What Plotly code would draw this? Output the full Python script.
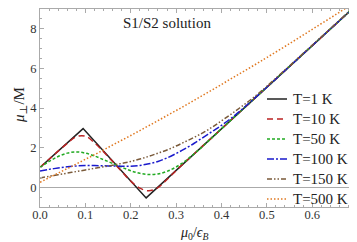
import plotly.graph_objects as go

# ---- data ----
x_t1 = [0.0, 0.095, 0.234, 0.72]
y_t1 = [1.0, 2.96, -0.54, 9.67]

x_grid = [0.00, 0.02, 0.04, 0.06, 0.08, 0.10, 0.12, 0.14, 0.16, 0.18, 0.20,
          0.22, 0.24, 0.26, 0.28, 0.30, 0.32, 0.34, 0.36, 0.38, 0.40, 0.42,
          0.44, 0.46, 0.48, 0.50, 0.55, 0.60, 0.65, 0.70, 0.72]

y_t10 = [1.00, 1.41, 1.82, 2.21, 2.55, 2.58, 2.24, 1.79, 1.30, 0.80, 0.31,
         -0.05, -0.18, -0.02, 0.39, 0.84, 1.27, 1.69, 2.11, 2.53, 2.95, 3.37,
         3.79, 4.21, 4.63, 5.05, 6.10, 7.15, 8.20, 9.25, 9.67]

y_t50 = [1.00, 1.30, 1.55, 1.72, 1.78, 1.72, 1.58, 1.39, 1.20, 1.01, 0.83,
         0.70, 0.64, 0.67, 0.80, 1.02, 1.32, 1.69, 2.09, 2.52, 2.95, 3.37,
         3.79, 4.21, 4.63, 5.05, 6.10, 7.15, 8.20, 9.25, 9.67]

y_t100 = [0.82, 0.90, 0.97, 1.03, 1.07, 1.09, 1.09, 1.08, 1.07, 1.06, 1.06,
          1.10, 1.18, 1.30, 1.48, 1.70, 1.95, 2.22, 2.52, 2.82, 3.12, 3.46,
          3.83, 4.23, 4.64, 5.05, 6.10, 7.15, 8.20, 9.25, 9.67]

y_t150 = [0.47, 0.55, 0.63, 0.71, 0.79, 0.87, 0.95, 1.03, 1.11, 1.20, 1.30,
          1.42, 1.56, 1.72, 1.88, 2.08, 2.30, 2.52, 2.76, 3.04, 3.35, 3.67,
          4.00, 4.34, 4.70, 5.10, 6.13, 7.17, 8.21, 9.26, 9.68]

y_t500 = [0.25, 0.48, 0.71, 0.94, 1.17, 1.41, 1.64, 1.88, 2.13, 2.37, 2.61,
          2.86, 3.11, 3.36, 3.62, 3.87, 4.13, 4.39, 4.66, 4.92, 5.19, 5.46,
          5.73, 6.00, 6.27, 6.55, 7.25, 7.97, 8.69, 9.43, 9.73]

labels = ["T=1 K", "T=10 K", "T=50 K", "T=100 K", "T=150 K", "T=500 K"]
x_ticks = [0.0, 0.1, 0.2, 0.3, 0.4, 0.5, 0.6, 0.7]
x_tick_text = ["0.0", "0.1", "0.2", "0.3", "0.4", "0.5", "0.6", "0.7"]
y_ticks = [0, 2, 4, 6, 8]

series = [
    (x_t1, y_t1, "#222222", "solid", "linear"),
    (x_grid, y_t10, "#bb2222", "6px,4px", "spline"),
    (x_grid, y_t50, "#22aa22", "3px,2px", "spline"),
    (x_grid, y_t100, "#1a1acc", "7px,2px,2px,2px", "spline"),
    (x_grid, y_t150, "#7a5a3a", "5px,2px,1.5px,2px,1.5px,2px", "spline"),
    (x_grid, y_t500, "#e07820", "1.5px,2px", "spline"),
]

SERIF = "Liberation Serif, Times New Roman, DejaVu Serif, serif"

W, H = 357, 242
L, R, T, B = 32, 2, 1, 43
pw, ph = W - L - R, H - T - B

def px(xp):
    return (xp - L) / pw

def py(yp):
    return (H - B - yp) / ph

fig = go.Figure()
shapes = []
annotations = []
for i, ((xs, ys, col, dash, shape), lab) in enumerate(zip(series, labels)):
    fig.add_trace(go.Scatter(x=xs, y=ys, mode="lines", name=lab, showlegend=False,
                             line=dict(color=col, width=1.5, dash=dash, shape=shape)))
    row_y = 91 + 20 * i
    shapes.append(dict(type="line", xref="paper", yref="paper",
                       x0=px(259), x1=px(279), y0=py(row_y), y1=py(row_y),
                       line=dict(color=col, width=1.5, dash=dash)))
    annotations.append(dict(text=lab, x=px(283), y=py(row_y), xref="paper", yref="paper",
                            xanchor="left", yanchor="middle", showarrow=False,
                            font=dict(size=15, family=SERIF, color="#222222")))

axis_common = dict(showgrid=False, showline=True, linecolor="#aaaaaa", linewidth=1,
                   mirror="allticks", ticks="inside", ticklen=4, tickcolor="#aaaaaa",
                   tickfont=dict(family=SERIF, size=12.5, color="#333333"))

fig.update_xaxes(range=[0, 0.712], tickvals=x_ticks, ticktext=x_tick_text,
                 zeroline=False, ticklabelstandoff=-4,
                 minor=dict(ticks="inside", ticklen=2, dtick=0.02, tickcolor="#aaaaaa"),
                 **axis_common)
fig.update_yaxes(range=[-1, 9], tickvals=y_ticks, zeroline=True,
                 zerolinecolor="#aaaaaa", zerolinewidth=1,
                 minor=dict(ticks="inside", ticklen=2, dtick=0.5, tickcolor="#aaaaaa"),
                 **axis_common)

annotations += [
    dict(text="S1/S2 solution", x=px(113), y=py(15), xref="paper", yref="paper",
         xanchor="left", yanchor="middle", showarrow=False,
         font=dict(size=15, family=SERIF, color="#222222")),
    dict(text="<i>μ</i><sub>⊥</sub>/M", x=px(12), y=py(97), xref="paper", yref="paper",
         xanchor="center", yanchor="middle", showarrow=False, textangle=-90,
         font=dict(size=15, family=SERIF, color="#222222")),
    dict(text="<i>μ</i><sub>0</sub>/<i>ϵ</i><sub><i>B</i></sub>", x=px(186), y=py(226),
         xref="paper", yref="paper", xanchor="center", yanchor="middle",
         showarrow=False,
         font=dict(size=14, family=SERIF, color="#222222")),
]

fig.update_layout(
    width=W, height=H,
    margin=dict(l=L, r=R, t=T, b=B),
    paper_bgcolor="white", plot_bgcolor="white",
    font=dict(family=SERIF, color="#222222"),
    showlegend=False,
    shapes=shapes,
    annotations=annotations,
)

fig.write_html("out.html")
